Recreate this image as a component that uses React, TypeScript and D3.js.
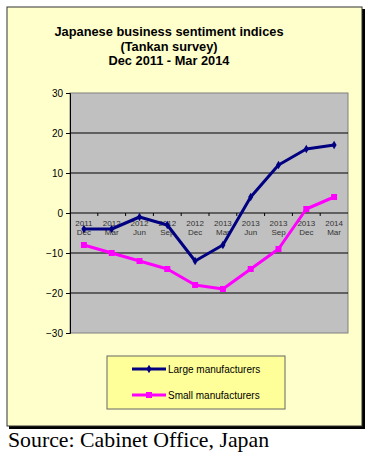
import React, { useEffect, useRef } from 'react';
import * as d3 from 'd3';

const years = ['2011', '2012', '2012', '2012', '2012', '2013', '2013', '2013', '2013', '2014'];
const months = ['Dec', 'Mar', 'Jun', 'Sep', 'Dec', 'Mar', 'Jun', 'Sep', 'Dec', 'Mar'];
const largeManufacturers = [-4, -4, -1, -3, -12, -8, 4, 12, 16, 17];
const smallManufacturers = [-8, -10, -12, -14, -18, -19, -14, -9, 1, 4];
const yTicks = [30, 20, 10, 0, -10, -20, -30];
const titleLines = ['Japanese business sentiment indices', '(Tankan survey)', 'Dec 2011 - Mar 2014'];

export default function App() {
    const ref = useRef<SVGSVGElement>(null);

    useEffect(() => {
        const svg = d3.select(ref.current);
        svg.selectAll('*').remove();

        const margin = { top: 93, right: 25, bottom: 123, left: 70 };
        const w = 373;
        const h = 456;
        const sans = 'Liberation Sans, Arial, sans-serif';

        // outer frame with shadow
        svg.append('rect').attr('x', 9).attr('y', 9).attr('width', 356).attr('height', 420).attr('fill', '#000');
        svg.append('rect').attr('x', 7).attr('y', 7).attr('width', 355).attr('height', 419)
            .attr('fill', '#ffffcc').attr('stroke', '#333').attr('stroke-width', 1);

        const title = svg.append('text')
            .attr('text-anchor', 'middle')
            .attr('font-family', sans)
            .attr('font-weight', 'bold')
            .attr('font-size', 12.8);
        titleLines.forEach((t, i) => {
            title.append('tspan').attr('x', 169).attr('y', 36 + i * 14.5).text(t);
        });

        const idx = d3.range(years.length);
        const x = d3.scaleBand<number>()
            .domain(idx)
            .range([margin.left, w - margin.right]);
        const cx = (i: number) => (x(i) as number) + x.bandwidth() / 2;

        const y = d3.scaleLinear()
            .domain([-30, 30])
            .range([h - margin.bottom, margin.top]);

        // plot area
        svg.append('rect')
            .attr('x', margin.left).attr('y', y(30))
            .attr('width', w - margin.right - margin.left).attr('height', y(-30) - y(30))
            .attr('fill', '#c0c0c0').attr('stroke', '#808080').attr('stroke-width', 1);

        // gridlines
        svg.append('g')
            .selectAll('line')
            .data(yTicks.filter(d => d !== 30 && d !== -30 && d !== 0))
            .join('line')
            .attr('x1', margin.left).attr('x2', w - margin.right)
            .attr('y1', d => y(d)).attr('y2', d => y(d))
            .attr('stroke', '#000').attr('stroke-width', 1);

        // y axis
        const yAxis = svg.append('g')
            .attr('transform', `translate(${margin.left},0)`)
            .call(d3.axisLeft(y).tickValues(yTicks).tickSize(4).tickPadding(3));
        yAxis.select('.domain').attr('stroke', '#000');
        yAxis.selectAll('text')
            .attr('font-family', sans)
            .attr('font-size', 10).attr('fill', '#000');

        // zero axis with ticks at category boundaries
        const z = svg.append('g');
        z.append('line')
            .attr('x1', margin.left).attr('x2', w - margin.right)
            .attr('y1', y(0)).attr('y2', y(0))
            .attr('stroke', '#000').attr('stroke-width', 1);
        z.selectAll('line.tick')
            .data(d3.range(1, years.length))
            .join('line')
            .attr('class', 'tick')
            .attr('x1', d => x(d) as number).attr('x2', d => x(d) as number)
            .attr('y1', y(0)).attr('y2', y(0) + 3)
            .attr('stroke', '#000');

        const labels = svg.append('g')
            .attr('font-family', sans)
            .attr('font-size', 8)
            .attr('fill', '#333')
            .attr('text-anchor', 'middle');
        labels.selectAll('text.yr')
            .data(idx)
            .join('text')
            .attr('class', 'yr')
            .attr('x', d => cx(d)).attr('y', y(0) + 13)
            .text(d => years[d]);
        labels.selectAll('text.mo')
            .data(idx)
            .join('text')
            .attr('class', 'mo')
            .attr('x', d => cx(d)).attr('y', y(0) + 22)
            .text(d => months[d]);

        const line = d3.line<number>()
            .x((d, i) => cx(i))
            .y(d => y(d));

        // series
        svg.append('path').datum(smallManufacturers)
            .attr('d', line).attr('fill', 'none')
            .attr('stroke', '#ff00ff').attr('stroke-width', 3).attr('stroke-linejoin', 'round');
        svg.append('g').selectAll('rect')
            .data(smallManufacturers)
            .join('rect')
            .attr('x', (d, i) => cx(i) - 3).attr('y', d => y(d) - 3)
            .attr('width', 6).attr('height', 6)
            .attr('fill', '#ff00ff');

        svg.append('path').datum(largeManufacturers)
            .attr('d', line).attr('fill', 'none')
            .attr('stroke', '#000080').attr('stroke-width', 3).attr('stroke-linejoin', 'round');
        svg.append('g').selectAll('path')
            .data(largeManufacturers)
            .join('path')
            .attr('d', d3.symbol(d3.symbolDiamond, 22))
            .attr('transform', (d, i) => `translate(${cx(i)},${y(d)})`)
            .attr('fill', '#000080');

        // legend
        const lg = svg.append('g');
        lg.append('rect')
            .attr('x', 107).attr('y', 356).attr('width', 178).attr('height', 53)
            .attr('fill', '#ffff99').attr('stroke', '#666').attr('stroke-width', 1);
        const entries = [
            { name: 'Large manufacturers', color: '#000080', square: false },
            { name: 'Small manufacturers', color: '#ff00ff', square: true },
        ];
        entries.forEach((e, i) => {
            const ly = 369 + i * 26;
            lg.append('line')
                .attr('x1', 132).attr('x2', 166).attr('y1', ly).attr('y2', ly)
                .attr('stroke', e.color).attr('stroke-width', 3);
            if (e.square) {
                lg.append('rect').attr('x', 146).attr('y', ly - 3).attr('width', 6).attr('height', 6).attr('fill', e.color);
            } else {
                lg.append('path').attr('d', d3.symbol(d3.symbolDiamond, 22))
                    .attr('transform', `translate(149,${ly})`).attr('fill', e.color);
            }
            lg.append('text')
                .attr('x', 168).attr('y', ly + 3.5)
                .attr('font-family', sans)
                .attr('font-size', 10).attr('fill', '#000')
                .text(e.name);
        });

        svg.append('text')
            .attr('x', 8).attr('y', 447)
            .attr('font-family', 'Liberation Serif, Times New Roman, serif')
            .attr('font-size', 21.8).attr('fill', '#000')
            .text('Source: Cabinet Office, Japan');
    }, []);

    return (
        <svg ref={ref} width={373} height={456}
            style={{ position: 'absolute', left: 0, top: 0, background: '#fff' }} />
    );
}
